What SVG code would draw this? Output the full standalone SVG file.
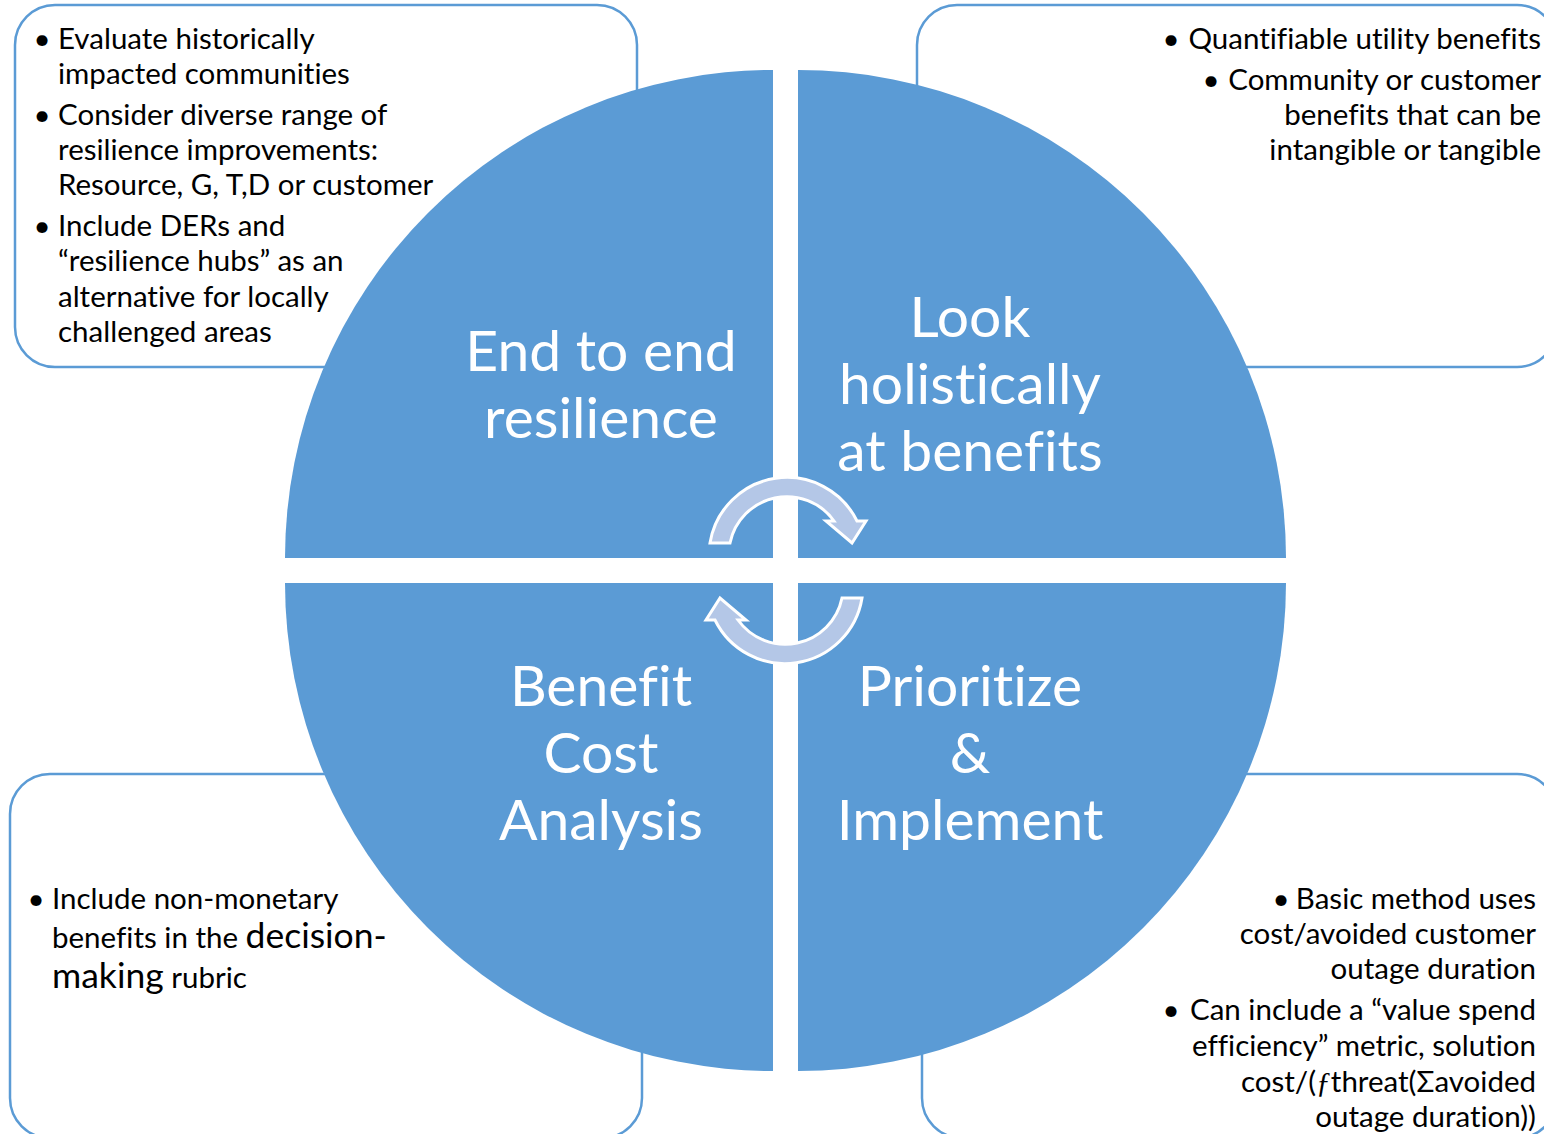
<svg xmlns="http://www.w3.org/2000/svg" width="1544" height="1134" viewBox="0 0 1544 1134">
  <style>
    .box { fill: #FFFFFF; stroke: #5B9BD5; stroke-width: 2.5; }
    .quad { fill: #5B9BD5; }
    .note { font-family: Lato, "Liberation Sans", sans-serif; font-size: 29.5px; fill: #000000; font-variant-ligatures: none; }
    .big { font-family: Lato, "Liberation Sans", sans-serif; font-size: 57px; fill: #FFFFFF; text-anchor: middle; font-variant-ligatures: none; }
    .r { text-anchor: end; }
    .bul { text-anchor: middle; }
    .cyc { fill: #B4C7E7; stroke: #FFFFFF; stroke-width: 3; stroke-linejoin: miter; }
  </style>
  <defs>
    <!-- curved cycle arrow, clockwise over the top -->
    <path id="cycle-arrow" d="M 710,543 A 78 78 0 0 1 857,521 L 866,521 L 852,543 L 826,521 L 834,521 A 58 58 0 0 0 730,543 Z"/>
  </defs>

  <rect width="1544" height="1134" fill="#FFFFFF"/>

  <!-- corner note boxes -->
  <g id="note-top-left"><rect class="box" x="15" y="5" width="622" height="362" rx="40"/></g>
  <g id="note-top-right"><rect class="box" x="917" y="5" width="640" height="362" rx="40"/></g>
  <g id="note-bottom-left"><rect class="box" x="10" y="774" width="632" height="364" rx="40"/></g>
  <g id="note-bottom-right"><rect class="box" x="922" y="774" width="635" height="364" rx="40"/></g>

  <!-- four quadrants of the cycle -->
  <g id="quad-end-to-end">
    <path class="quad" d="M 773,558 L 285,558 A 488 488 0 0 1 773,70 Z"/>
    <text class="big" x="601" y="371">End to end</text>
    <text class="big" x="601" y="438">resilience</text>
  </g>
  <g id="quad-benefits">
    <path class="quad" d="M 798,558 L 798,70 A 488 488 0 0 1 1286,558 Z"/>
    <text class="big" x="970" y="337">Look</text>
    <text class="big" x="970" y="404">holistically</text>
    <text class="big" x="970" y="471">at benefits</text>
  </g>
  <g id="quad-bca">
    <path class="quad" d="M 773,583 L 773,1071 A 488 488 0 0 1 285,583 Z"/>
    <text class="big" x="601" y="706">Benefit</text>
    <text class="big" x="601" y="773">Cost</text>
    <text class="big" x="601" y="840">Analysis</text>
  </g>
  <g id="quad-prioritize">
    <path class="quad" d="M 798,583 L 1286,583 A 488 488 0 0 1 798,1071 Z"/>
    <text class="big" x="970" y="706">Prioritize</text>
    <text class="big" x="970" y="773">&amp;</text>
    <text class="big" x="970" y="840">Implement</text>
  </g>

  <!-- cycle arrows -->
  <g id="connectors">
    <use href="#cycle-arrow" class="cyc"/>
    <use href="#cycle-arrow" class="cyc" transform="rotate(180 786 570.5)"/>
  </g>

  <!-- note texts -->
  <g id="text-top-left" class="note">
    <text class="bul" x="42" y="49">•</text>
    <text x="58" y="49">Evaluate historically</text>
    <text x="58" y="84">impacted communities</text>
    <text class="bul" x="42" y="125">•</text>
    <text x="58" y="125">Consider diverse range of</text>
    <text x="58" y="160">resilience improvements:</text>
    <text x="58" y="195">Resource, G, T,D or customer</text>
    <text class="bul" x="42" y="236">•</text>
    <text x="58" y="236">Include DERs and</text>
    <text x="58" y="271">“resilience hubs” as an</text>
    <text x="58" y="307">alternative for locally</text>
    <text x="58" y="342">challenged areas</text>
  </g>
  <g id="text-top-right" class="note">
    <text class="bul" x="1171" y="49">•</text>
    <text class="r" x="1541" y="49">Quantifiable utility benefits</text>
    <text class="bul" x="1211" y="90">•</text>
    <text class="r" x="1541" y="90">Community or customer</text>
    <text class="r" x="1541" y="125">benefits that can be</text>
    <text class="r" x="1541" y="160">intangible or tangible</text>
  </g>
  <g id="text-bottom-left" class="note">
    <text class="bul" x="36" y="909">•</text>
    <text x="52" y="909">Include non-monetary</text>
    <text x="52" y="948">benefits in the <tspan font-size="35.5">decision-</tspan></text>
    <text x="52" y="988"><tspan font-size="35.5">making</tspan> rubric</text>
  </g>
  <g id="text-bottom-right" class="note">
    <text class="bul" x="1281" y="909">•</text>
    <text class="r" x="1536" y="909">Basic method uses</text>
    <text class="r" x="1536" y="944">cost/avoided customer</text>
    <text class="r" x="1536" y="979">outage duration</text>
    <text class="bul" x="1171" y="1020">•</text>
    <text class="r" x="1536" y="1020">Can include a “value spend</text>
    <text class="r" x="1536" y="1056">efficiency” metric, solution</text>
    <text class="r" x="1536" y="1092">cost/(<tspan font-family="'Liberation Serif', serif" font-style="italic">ƒ</tspan>threat(Σavoided</text>
    <text class="r" x="1536" y="1127">outage duration))</text>
  </g>
</svg>
